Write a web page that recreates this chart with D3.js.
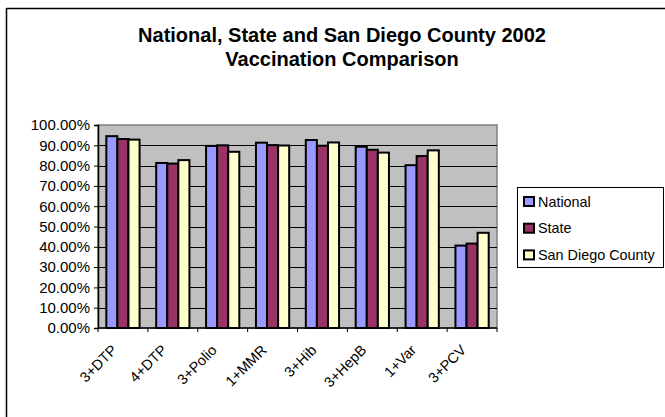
<!DOCTYPE html>
<html>
<head>
<meta charset="utf-8">
<script src="https://cdn.jsdelivr.net/npm/d3@7"></script>
<style>
  body { margin: 0; background: #fff; }
  svg { display: block; font-family: "Liberation Sans", Arial, sans-serif; }
</style>
</head>
<body>
<svg id="chart" width="665" height="417"></svg>
<script>
// datos
const categories = ["3+DTP", "4+DTP", "3+Polio", "1+MMR", "3+Hib", "3+HepB", "1+Var", "3+PCV"];
const seriesNames = ["National", "State", "San Diego County"];
const national = [94.5, 81.3, 89.7, 91.3, 92.6, 89.3, 80.2, 40.6];
const state    = [93.1, 81.0, 90.0, 90.1, 89.8, 87.8, 84.7, 41.6];
const sandiego = [92.8, 82.7, 86.8, 89.9, 91.4, 86.4, 87.5, 46.9];
const yTicks = [0, 10, 20, 30, 40, 50, 60, 70, 80, 90, 100];
const colors = ["#9999FF", "#993366", "#FFFFCC"];

const values = [national, state, sandiego];

const svg = d3.select("#chart");

// 1) Borde exterior (solo arriba e izquierda visibles)
svg.append("line").attr("x1", 6.5).attr("x2", 665).attr("y1", 8.5).attr("y2", 8.5)
  .attr("stroke", "#000").attr("stroke-width", 1.5);
svg.append("line").attr("x1", 6.5).attr("x2", 6.5).attr("y1", 8).attr("y2", 417)
  .attr("stroke", "#000").attr("stroke-width", 1.5);

// 2) Título
const title = svg.append("text")
  .attr("text-anchor", "middle")
  .attr("font-size", "20px")
  .attr("font-weight", "bold")
  .attr("fill", "#000");
title.append("tspan").attr("x", 342).attr("y", 42).text("National, State and San Diego County 2002");
title.append("tspan").attr("x", 342).attr("y", 66).text("Vaccination Comparison");

// 3) Área de trazado
const plot = { left: 98, top: 125, right: 497, bottom: 328 };

const x = d3.scaleBand()
  .domain(categories)
  .range([plot.left, plot.right])
  .paddingInner(0)
  .paddingOuter(0);

const y = d3.scaleLinear()
  .domain([0, 100])
  .range([plot.bottom, plot.top]);

svg.append("rect")
  .attr("x", plot.left).attr("y", plot.top)
  .attr("width", plot.right - plot.left).attr("height", plot.bottom - plot.top)
  .attr("fill", "#C0C0C0")
  .attr("stroke", "#808080").attr("stroke-width", 1.5);

// líneas de cuadrícula
svg.append("g").selectAll("line")
  .data(yTicks.filter(d => d > 0 && d < 100))
  .enter().append("line")
    .attr("x1", plot.left).attr("x2", plot.right)
    .attr("y1", d => Math.round(y(d)) + 0.5).attr("y2", d => Math.round(y(d)) + 0.5)
    .attr("stroke", "#000").attr("stroke-width", 1);

// 4) Barras
const inner = d3.scaleBand()
  .domain(d3.range(seriesNames.length))
  .range([0, x.bandwidth()])
  .paddingInner(0)
  .paddingOuter(0.75);

const groups = svg.append("g").selectAll("g")
  .data(categories)
  .enter().append("g")
    .attr("transform", d => `translate(${x(d)},0)`);

groups.selectAll("rect")
  .data((d, i) => values.map((s, k) => ({ k, v: s[i] })))
  .enter().append("rect")
    .attr("x", d => inner(d.k))
    .attr("y", d => y(d.v))
    .attr("width", inner.bandwidth())
    .attr("height", d => plot.bottom - y(d.v))
    .attr("fill", d => colors[d.k])
    .attr("stroke", "#000")
    .attr("stroke-width", 2);

// 5) Ejes
const yAxis = d3.axisLeft(y)
  .tickValues(yTicks)
  .tickSize(4)
  .tickPadding(4)
  .tickFormat(d => d.toFixed(2) + "%");

const gy = svg.append("g")
  .attr("transform", `translate(${plot.left},0)`)
  .call(yAxis);
gy.select(".domain").attr("stroke", "#000").attr("stroke-width", 1.5);
gy.selectAll(".tick line").attr("stroke", "#000");
gy.selectAll(".tick text")
  .attr("font-size", "15px")
  .attr("font-family", "Liberation Sans, Arial, sans-serif")
  .attr("fill", "#000");

// eje x: ticks en los límites entre categorías
const gx = svg.append("g");
gx.append("line")
  .attr("x1", plot.left).attr("x2", plot.right)
  .attr("y1", plot.bottom).attr("y2", plot.bottom)
  .attr("stroke", "#000").attr("stroke-width", 1.5);
gx.selectAll(".xtick")
  .data(categories.concat(["end"]))
  .enter().append("line")
    .attr("class", "xtick")
    .attr("x1", (d, i) => i < categories.length ? x(d) : plot.right)
    .attr("x2", (d, i) => i < categories.length ? x(d) : plot.right)
    .attr("y1", plot.bottom).attr("y2", plot.bottom + 4)
    .attr("stroke", "#000");

gx.selectAll(".xlabel")
  .data(categories)
  .enter().append("text")
    .attr("class", "xlabel")
    .attr("text-anchor", "end")
    .attr("font-size", "14.5px")
    .attr("fill", "#000")
    .attr("transform", d => `translate(${x(d) + x.bandwidth() / 2 - 5},351) rotate(-45)`)
    .text(d => d);

// 6) Leyenda
const legend = svg.append("g");
legend.append("rect")
  .attr("x", 517.5).attr("y", 187.5)
  .attr("width", 146).attr("height", 80)
  .attr("fill", "#fff")
  .attr("stroke", "#000").attr("stroke-width", 1);

const items = legend.selectAll(".item")
  .data(seriesNames)
  .enter().append("g")
    .attr("class", "item")
    .attr("transform", (d, i) => `translate(524,${197 + i * 26.7})`);

items.append("rect")
  .attr("width", 10).attr("height", 9)
  .attr("fill", (d, i) => colors[i])
  .attr("stroke", "#000").attr("stroke-width", 2);

items.append("text")
  .attr("x", 14).attr("y", 9.5)
  .attr("font-size", "14.4px")
  .attr("fill", "#000")
  .text(d => d);
</script>
</body>
</html>
